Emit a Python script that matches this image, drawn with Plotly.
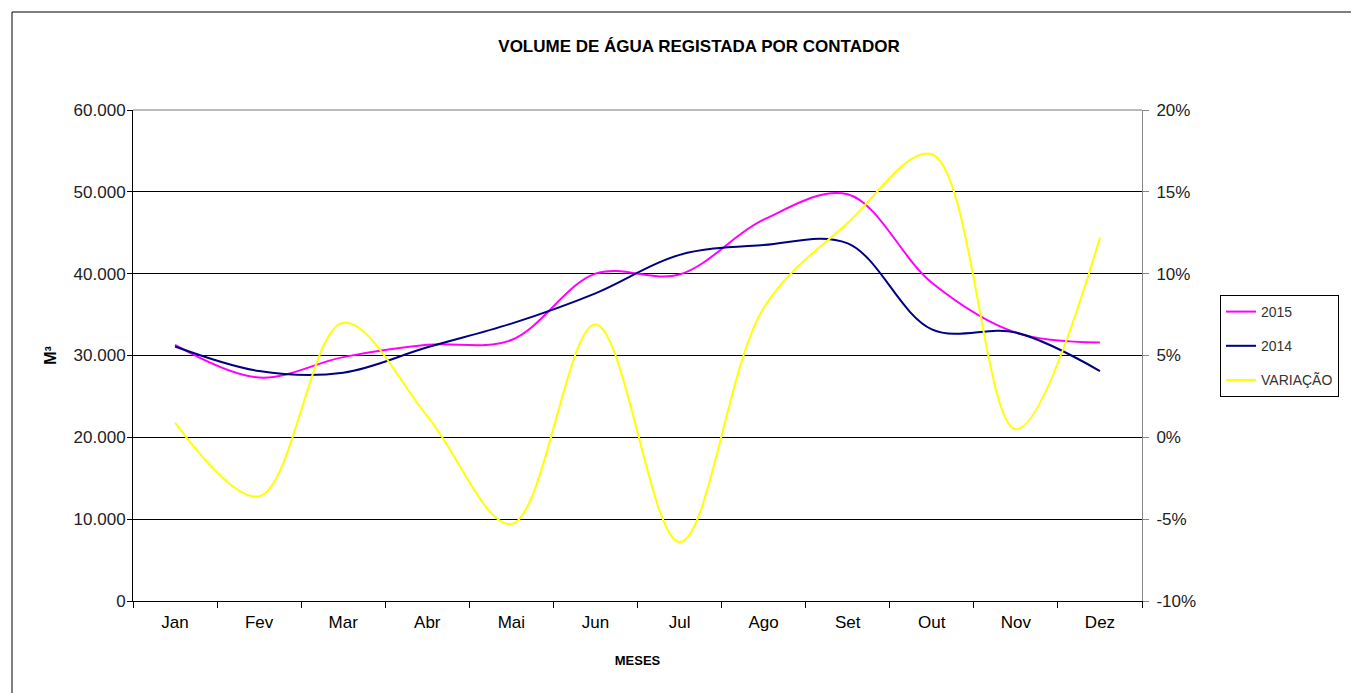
import plotly.graph_objects as go

meses = ["Jan", "Fev", "Mar", "Abr", "Mai", "Jun", "Jul", "Ago", "Set", "Out", "Nov", "Dez"]
vol_2015 = [31300, 27300, 29800, 31300, 31900, 40000, 39900, 46600, 49700, 38900, 32800, 31600]
vol_2014 = [31100, 28100, 27900, 31000, 33900, 37600, 42300, 43500, 43700, 33200, 32800, 28100]
variacao = [0.009, -0.036, 0.070, 0.013, -0.053, 0.069, -0.064, 0.079, 0.131, 0.173, 0.005, 0.122]

left_ticks = [0, 10000, 20000, 30000, 40000, 50000, 60000]
left_labels = ["0", "10.000", "20.000", "30.000", "40.000", "50.000", "60.000"]
right_ticks = [-0.10, -0.05, 0.0, 0.05, 0.10, 0.15, 0.20]
right_labels = ["-10%", "-5%", "0%", "5%", "10%", "15%", "20%"]

OFF = 8  # page body margin
W, H = 1359 - OFF, 693 - OFF
L, R, T, B = 133 - OFF, 1142 - OFF, 110 - OFF, 601 - OFF
pw, ph = R - L, B - T

def px(x):
    return (x - OFF - L) / pw

def py(y):
    return (B - (y - OFF)) / ph

fig = go.Figure()
fig.add_trace(go.Scatter(x=meses, y=vol_2015, name="2015", mode="lines",
                         line=dict(color="#FF00FF", width=2, shape="spline"),
                         legendgroup="a"))
fig.add_trace(go.Scatter(x=meses, y=vol_2014, name="2014", mode="lines",
                         line=dict(color="#000080", width=2, shape="spline"),
                         legendgroup="b"))
fig.add_trace(go.Scatter(x=meses, y=variacao, name="VARIAÇÃO", mode="lines",
                         line=dict(color="#FFFF00", width=2, shape="spline"),
                         legendgroup="c", yaxis="y2"))

font_family = "Liberation Sans, Arial, sans-serif"

fig.update_layout(
    width=W, height=H,
    margin=dict(l=L, r=W - R, t=T, b=H - B, autoexpand=False),
    paper_bgcolor="white", plot_bgcolor="white",
    font=dict(family=font_family, color="black"),
    title=dict(text="<b>VOLUME DE ÁGUA REGISTADA POR CONTADOR</b>",
               x=(699 - OFF) / W, xanchor="center", y=1 - (46 - OFF) / H, yanchor="middle",
               font=dict(size=17, color="black")),
    showlegend=True,
    legend=dict(x=px(1220), y=py(295), xanchor="left", yanchor="top",
                bordercolor="black", borderwidth=1, bgcolor="white",
                font=dict(size=14, color="#333"), tracegroupgap=13,
                traceorder="grouped", entrywidth=118, entrywidthmode="pixels"),
    xaxis=dict(type="category", range=[-0.5, 11.5], showline=True, linecolor="black", linewidth=1,
               ticks="outside", tickson="boundaries", ticklen=6, tickcolor="black",
               tickfont=dict(size=17), showgrid=False, ticklabelstandoff=6,
               title=dict(text="<b>MESES</b>", font=dict(size=13), standoff=24)),
    yaxis=dict(range=[0, 60000], tickvals=left_ticks, ticktext=left_labels,
               showline=True, linecolor="black", linewidth=1,
               ticks="outside", ticklen=5, tickcolor="black",
               tickfont=dict(size=17, color="#222"), ticklabelstandoff=-2,
               showgrid=True, gridcolor="black", gridwidth=1, zeroline=False,
               title=dict(text="<b>M³</b>", font=dict(size=16), standoff=12)),
    yaxis2=dict(range=[-0.10, 0.20], tickvals=right_ticks, ticktext=right_labels,
                overlaying="y", side="right", showline=True, linecolor="#888888",
                linewidth=1, ticks="outside", ticklen=6, tickcolor="#888888",
                tickfont=dict(size=17, color="#222"), ticklabelstandoff=4,
                showgrid=False, zeroline=False),
    shapes=[
        dict(type="line", xref="paper", yref="paper", x0=0, x1=1, y0=1, y1=1,
             line=dict(color="#777777", width=1)),
        dict(type="rect", xref="paper", yref="paper",
             x0=px(12), x1=px(1380), y0=py(720), y1=py(12),
             line=dict(color="black", width=1), fillcolor="rgba(0,0,0,0)"),
    ],
)

fig.write_html("out.html")
